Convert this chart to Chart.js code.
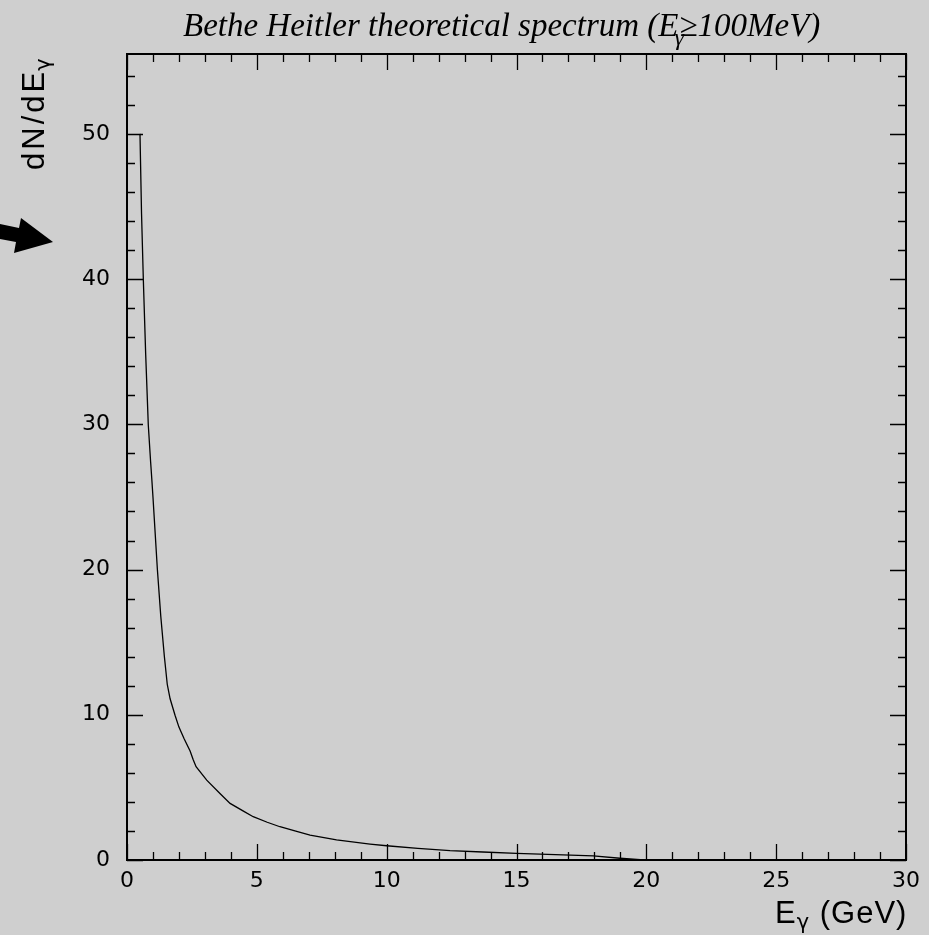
<!DOCTYPE html>
<html>
<head>
<meta charset="utf-8">
<script src="https://cdn.jsdelivr.net/npm/chart.js@4/dist/chart.umd.min.js"></script>
<style>
  html, body { margin: 0; padding: 0; background: #cfcfcf; }
  #wrap { width: 929px; height: 935px; }
</style>
</head>
<body>
<div id="wrap"><canvas id="c" width="929" height="935"></canvas></div>
<script>
// Photon energy (GeV) and differential yield dN/dE
const energy = [0.5, 0.56, 0.63, 0.72, 0.82, 0.91, 0.96, 1.0, 1.17, 1.3, 1.44, 1.55, 1.66, 1.85, 2.0, 2.2, 2.43, 2.55, 2.66, 3.07, 3.58, 3.97, 4.5, 4.86, 5.4, 5.89, 6.5, 7.05, 8.07, 9.36, 10.0, 11.2, 12.44, 13.7, 15.0, 16.5, 17.96, 18.98, 19.9];
const dnde   = [50, 44.5, 39.9, 34.8, 29.95, 27.4, 26.1, 25.0, 20.0, 16.8, 14.0, 12.1, 11.1, 9.97, 9.15, 8.35, 7.5, 6.9, 6.42, 5.5, 4.58, 3.9, 3.35, 2.98, 2.6, 2.29, 1.98, 1.72, 1.38, 1.10, 0.98, 0.8, 0.64, 0.55, 0.46, 0.37, 0.28, 0.12, 0];

// Axis tick labels
const xTickValues = [0, 5, 10, 15, 20, 25, 30];
const yTickValues = [0, 10, 20, 30, 40, 50];

const X_MIN = 0, X_MAX = 30, Y_MIN = 0, Y_MAX = 55.5;
const BG = '#cfcfcf';
const tickFont = { family: '"DejaVu Sans", sans-serif', size: 22 };

// Frame, inward ticks on all four sides, titles and the pointer arrow
const decorations = {
  id: 'decorations',
  beforeDraw(chart) {
    const ctx = chart.ctx;
    ctx.save();
    ctx.fillStyle = BG;
    ctx.fillRect(0, 0, chart.width, chart.height);
    ctx.restore();
  },
  afterDraw(chart) {
    const ctx = chart.ctx;
    const a = chart.chartArea;
    const sx = chart.scales.x, sy = chart.scales.y;
    ctx.save();
    ctx.strokeStyle = '#000';

    // ticks
    ctx.lineWidth = 1.3;
    ctx.beginPath();
    for (let v = X_MIN; v <= X_MAX; v += 1) {
      const px = Math.round(sx.getPixelForValue(v)) + 0.5;
      const len = (v % 5 === 0) ? 16 : 8;
      ctx.moveTo(px, a.bottom); ctx.lineTo(px, a.bottom - len);
      ctx.moveTo(px, a.top); ctx.lineTo(px, a.top + len);
    }
    for (let v = Y_MIN; v <= Y_MAX; v += 2) {
      const py = Math.round(sy.getPixelForValue(v)) + 0.5;
      const len = (v % 10 === 0) ? 16 : 8;
      ctx.moveTo(a.left, py); ctx.lineTo(a.left + len, py);
      ctx.moveTo(a.right, py); ctx.lineTo(a.right - len, py);
    }
    ctx.stroke();

    // frame
    ctx.lineWidth = 2;
    ctx.strokeRect(a.left, a.top, a.right - a.left, a.bottom - a.top);

    // title
    ctx.fillStyle = '#000';
    ctx.textBaseline = 'alphabetic';
    ctx.textAlign = 'left';
    const tf = 'italic 33px "Liberation Serif", "Times New Roman", serif';
    const tfs = 'italic 24px "Liberation Serif", "Times New Roman", serif';
    let tx = 183, ty = 36;
    ctx.font = tf;
    const t1 = 'Bethe Heitler theoretical spectrum (E';
    ctx.fillText(t1, tx, ty);
    tx += ctx.measureText(t1).width;
    ctx.font = tfs;
    ctx.fillText('γ', tx - 4, ty + 9);
    ctx.font = tf;
    ctx.fillText('≥100MeV)', tx + 1, ty);

    // x-axis title
    const af = '31px "Liberation Sans", Arial, sans-serif';
    const afs = '21px "DejaVu Sans", sans-serif';
    ctx.letterSpacing = '1px';
    let xx = 775, xy = 923;
    ctx.font = af;
    ctx.fillText('E', xx, xy);
    xx += ctx.measureText('E').width;
    ctx.font = afs;
    ctx.fillText('γ', xx, xy + 6);
    xx += ctx.measureText('γ').width;
    ctx.font = af;
    ctx.fillText(' (GeV)', xx, xy);

    // y-axis title, rotated
    ctx.save();
    ctx.letterSpacing = '3px';
    ctx.translate(44, 170);
    ctx.rotate(-Math.PI / 2);
    ctx.font = af;
    ctx.fillText('dN/dE', 0, 0);
    const w = ctx.measureText('dN/dE').width;
    ctx.font = afs;
    ctx.fillText('γ', w - 2, 6);
    ctx.restore();
    ctx.letterSpacing = '0px';

    // pointer arrow on the left margin
    ctx.beginPath();
    ctx.moveTo(0, 224);
    ctx.lineTo(19, 228);
    ctx.lineTo(21, 218);
    ctx.lineTo(53, 242);
    ctx.lineTo(14, 253);
    ctx.lineTo(16, 242);
    ctx.lineTo(0, 239);
    ctx.closePath();
    ctx.fill();

    ctx.restore();
  }
};

new Chart(document.getElementById('c'), {
  type: 'line',
  data: {
    datasets: [{
      data: energy.map((e, i) => ({ x: e, y: dnde[i] })),
      borderColor: '#000',
      borderWidth: 1.3,
      pointRadius: 0,
      tension: 0,
      fill: false
    }]
  },
  options: {
    responsive: false,
    animation: false,
    devicePixelRatio: 1,
    layout: { padding: { top: 54, right: 23, left: 0, bottom: 0 } },
    plugins: { legend: { display: false }, title: { display: false }, tooltip: { enabled: false } },
    scales: {
      x: {
        type: 'linear', min: X_MIN, max: X_MAX,
        grid: { display: false, drawTicks: false },
        border: { display: false },
        ticks: { color: '#000', font: tickFont, padding: 8, maxRotation: 0, autoSkip: false },
        afterBuildTicks: s => { s.ticks = xTickValues.map(v => ({ value: v })); },
        afterFit: s => { s.height = 75; }
      },
      y: {
        type: 'linear', min: Y_MIN, max: Y_MAX,
        grid: { display: false, drawTicks: false },
        border: { display: false },
        ticks: { color: '#000', font: tickFont, padding: 17, autoSkip: false },
        afterBuildTicks: s => { s.ticks = yTickValues.map(v => ({ value: v })); },
        afterFit: s => { s.width = 127; }
      }
    }
  },
  plugins: [decorations]
});
</script>
</body>
</html>
